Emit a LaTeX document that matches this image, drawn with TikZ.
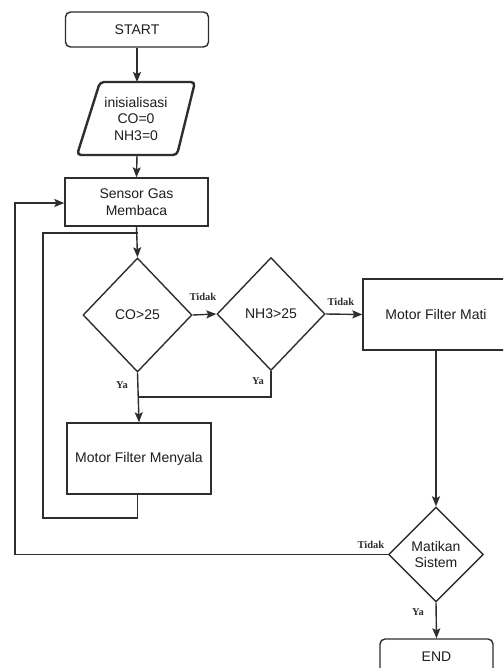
\documentclass[tikz,border=0pt]{standalone}
\usepackage{fontspec}
\setmainfont{Liberation Sans}
\newfontfamily\lblfont{Liberation Serif}
\usetikzlibrary{shapes.geometric,arrows.meta}
\definecolor{ln}{HTML}{2E2E2E}
\definecolor{tx}{HTML}{1E1E1E}
\tikzset{
  base/.style={draw=ln,line width=1.4pt,text=tx,font=\fontsize{14}{16.5}\selectfont,align=center,inner sep=0pt},
  procbox/.style={base,rectangle},
  termbox/.style={base,rectangle,rounded corners=5pt},
  decbox/.style={base,diamond},
  conn/.style={draw=ln,line width=1.4pt},
  arr/.style={conn,-{Stealth[length=10pt,width=8pt,inset=2pt]}},
  lbl/.style={font=\lblfont\bfseries\fontsize{10.5}{11}\selectfont,text=ln,inner sep=0pt},
}
\begin{document}
\begin{tikzpicture}[x=1pt,y=-1pt]
\useasboundingbox (0,0) rectangle (503,668);
\clip (0,0) rectangle (503,668);
\fill[white] (0,0) rectangle (503,668);

% nodes
\node[termbox,minimum width=143pt,minimum height=35pt] (start) at (137,29.5) {START};

\draw[draw=ln,line width=2.4pt,rounded corners=4pt] (100,82) -- (195,82) -- (177,155) -- (77,155) -- cycle;
\node[text=tx,font=\fontsize{14}{16.5}\selectfont,align=center,inner sep=0pt] (init) at (136,118.5) {inisialisasi\\CO=0\\NH3=0};
\coordinate (initN) at (137,82);
\coordinate (initS) at (137,155);

\node[procbox,minimum width=143pt,minimum height=48pt] (sensor) at (136.5,202) {Sensor Gas\\Membaca};

\node[decbox,minimum width=109pt,minimum height=114pt] (co) at (137.5,315) {CO>25};
\node[decbox,minimum width=108pt,minimum height=113pt] (nh) at (271,314) {NH3>25};

\node[procbox,minimum width=146pt,minimum height=71pt] (mati) at (436,314.5) {Motor Filter Mati};
\node[procbox,minimum width=144pt,minimum height=71pt] (nyala) at (139,458.5) {Motor Filter Menyala};

\node[decbox,minimum width=95pt,minimum height=95pt] (sys) at (436,554.5) {Matikan\\Sistem};

\node[termbox,minimum width=113pt,minimum height=36pt] (end) at (436.5,657) {END};

% loop coordinates
\coordinate (j1) at (137.5,233);
\coordinate (l1) at (43,233);
\coordinate (l2) at (43,518);
\coordinate (l3) at (137.5,518);
\coordinate (n1) at (271,397);
\coordinate (c1) at (137.5,397);
\coordinate (o1) at (15,554.5);
\coordinate (o2) at (15,203);

% connectors
\draw[arr] (start.south) -- (initN);
\draw[arr] (initS) -- (sensor.north);
\draw[arr] (sensor.south) -- (co.north);
\draw[arr] (co.east) -- (nh.west);
\draw[arr] (nh.east) -- (mati.west);
\draw[arr] (co.south) -- (nyala.north);
\draw[conn] (nh.south) -- (n1) -- (c1);
\draw[conn] (nyala.south -| l3) -- (l3) -- (l2) -- (l1) -- (j1);
\draw[arr] (mati.south) -- (sys.north);
\draw[arr] (sys.west) -- (o1) -- (o2) -- (sensor.west |- o2);
\draw[arr] (sys.south) -- (end.north);

% labels
\node[lbl] (t1) at (203,297) {Tidak};
\node[lbl] (t2) at (341,302) {Tidak};
\node[lbl] (y1) at (122,385) {Ya};
\node[lbl] (y2) at (258,381) {Ya};
\node[lbl] (t3) at (371,545) {Tidak};
\node[lbl] (y3) at (418,612) {Ya};
\end{tikzpicture}
\end{document}
